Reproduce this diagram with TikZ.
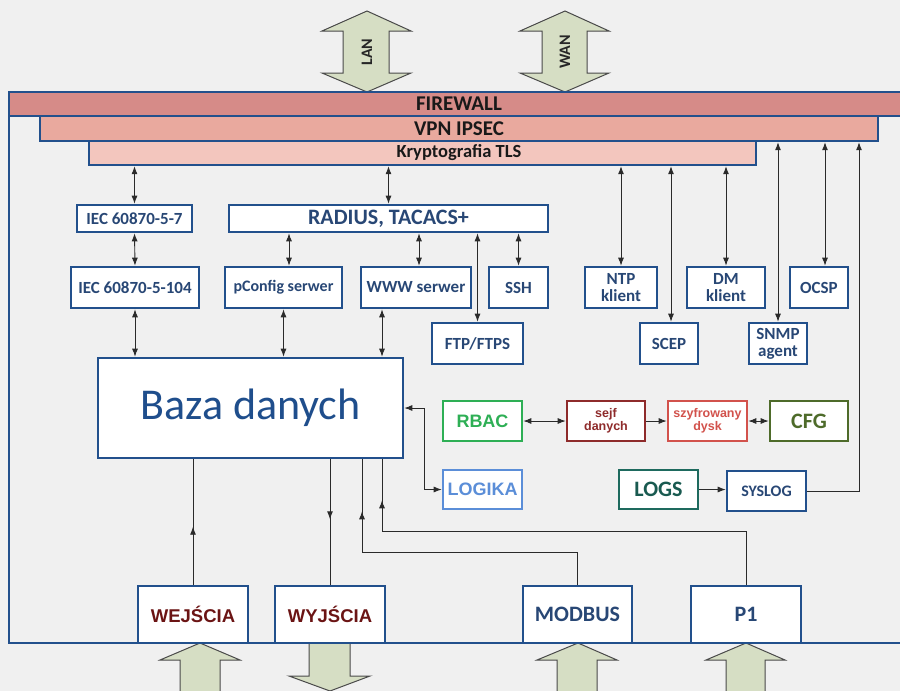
\documentclass[tikz,border=0pt]{standalone}
\usepackage{fontspec}
\setmainfont{Carlito}
\newfontfamily\arialf{Liberation Sans}
\usetikzlibrary{arrows.meta,decorations.markings}
\definecolor{bgc}{HTML}{F0F0F0}
\definecolor{boxblue}{HTML}{22508C}
\definecolor{txtblue}{HTML}{284775}
\definecolor{bazablue}{HTML}{1F4E8C}
\definecolor{fwc}{HTML}{D68B88}
\definecolor{vpnc}{HTML}{E9A99E}
\definecolor{tlsc}{HTML}{F3C6BE}
\definecolor{arrowg}{HTML}{D6DEC4}
\definecolor{arrowedge}{HTML}{4A4A4A}
\definecolor{linec}{HTML}{2A2A2A}
\definecolor{wejred}{HTML}{6B1414}
\definecolor{rbacg}{HTML}{2EAF55}
\definecolor{sejfc}{HTML}{8E2B2B}
\definecolor{szyfrc}{HTML}{D2524C}
\definecolor{cfgc}{HTML}{4E6B2A}
\definecolor{logikac}{HTML}{5B8ED8}
\definecolor{logsc}{HTML}{1E6A5E}
\tikzset{
  box/.style={draw=boxblue, line width=2.6pt, fill=white, inner sep=0pt, align=center,
    text=txtblue, font=\bfseries\fontsize{17}{17}\selectfont},
  barbox/.style={draw=boxblue, line width=2.4pt, inner sep=0pt},
  bartext/.style={inner sep=0pt, text=black!90, font=\bfseries\fontsize{21}{21}\selectfont},
  conn/.style={draw=linec, line width=0.9pt},
  blockarrow/.style={fill=arrowg, draw=arrowedge, line width=1pt},
  midarrow/.style={decoration={markings, mark=at position #1 with {\arrow{Latex[length=8pt,width=6pt]}}}, postaction={decorate}},
  >={Latex[length=8pt,width=6pt]}
}
\begin{document}
\begin{tikzpicture}[x=1pt,y=-1pt]
\clip (0,0) rectangle (900,691);
\fill[bgc] (0,0) rectangle (900,691);

% block arrows top
\filldraw[blockarrow] (367,11) -- (411,31) -- (389,31) -- (389,73) -- (411,73) -- (367,92)
  -- (322,73) -- (343,73) -- (343,31) -- (322,31) -- cycle;
\node[rotate=90, inner sep=0pt, font=\bfseries\fontsize{16}{16}\selectfont, text=black!85] (lan) at (367,52) {LAN};
\filldraw[blockarrow] (565,11) -- (609,31) -- (587,31) -- (587,73) -- (609,73) -- (565,92)
  -- (520,73) -- (542,73) -- (542,31) -- (520,31) -- cycle;
\node[rotate=90, inner sep=0pt, font=\bfseries\fontsize{16}{16}\selectfont, text=black!85] (wan) at (565,52) {WAN};

% frame
\draw[boxblue, line width=2.6pt] (9,92) rectangle (910,643);

% bottom block arrows
\filldraw[blockarrow] (200,643) -- (240,660) -- (220,660) -- (220,700) -- (180,700) -- (180,660) -- (160,660) -- cycle;
\filldraw[blockarrow] (309,643) -- (350,643) -- (350,676) -- (370,676) -- (330,691) -- (289,676) -- (309,676) -- cycle;
\filldraw[blockarrow] (578,643) -- (617,660) -- (597,660) -- (597,700) -- (557,700) -- (557,660) -- (537,660) -- cycle;
\filldraw[blockarrow] (746,643) -- (785,660) -- (765,660) -- (765,700) -- (726,700) -- (726,660) -- (706,660) -- cycle;

% bars
\node[barbox, fill=fwc, minimum width=901pt, minimum height=24pt] (fw) at (459.5,104) {};
\node[barbox, fill=vpnc, minimum width=838pt, minimum height=25pt] (vpn) at (459,128.5) {};
\node[barbox, fill=tlsc, minimum width=667pt, minimum height=24pt] (tls) at (422.5,153) {};
\node[bartext] (fwt) at (459,104) {FIREWALL};
\node[bartext] (vpnt) at (459,129) {VPN IPSEC};
\node[bartext, font=\bfseries\fontsize{18.5}{18.5}\selectfont] (tlst) at (459,153) {Kryptografia TLS};

% boxes
\node[box, minimum width=115pt, minimum height=27pt] (iec7) at (134.5,218.5) {IEC 60870-5-7};
\node[box, minimum width=128pt, minimum height=41pt] (iec104) at (135,287.5) {IEC 60870-5-104};
\node[box, minimum width=319pt, minimum height=27pt, font=\bfseries\fontsize{22}{22}\selectfont] (radius) at (388.5,218.5) {RADIUS, TACACS+};
\node[box, minimum width=117pt, minimum height=41pt, font=\bfseries\fontsize{16}{16}\selectfont] (pconfig) at (283.5,287.5) {pConfig serwer};
\node[box, minimum width=110pt, minimum height=41pt] (www) at (416,287.5) {WWW serwer};
\node[box, minimum width=59pt, minimum height=41pt] (ssh) at (518.5,287.5) {SSH};
\node[box, minimum width=91pt, minimum height=41pt] (ftp) at (477.5,343.5) {FTP/FTPS};
\node[box, minimum width=72pt, minimum height=41pt] (ntp) at (621,287.5) {NTP\\klient};
\node[box, minimum width=58pt, minimum height=41pt] (scep) at (669,343.5) {SCEP};
\node[box, minimum width=78pt, minimum height=41pt] (dm) at (726,287.5) {DM\\klient};
\node[box, minimum width=58pt, minimum height=41pt] (snmp) at (778,343.5) {SNMP\\agent};
\node[box, minimum width=58pt, minimum height=41pt] (ocsp) at (819,287.5) {OCSP};

\node[box, minimum width=305pt, minimum height=100pt, text=bazablue, font=\fontsize{44}{44}\selectfont] (baza) at (250.5,408) {Baza danych};

\node[box, draw=rbacg, text=rbacg, minimum width=79pt, minimum height=40pt, font=\arialf\bfseries\fontsize{18}{18}\selectfont] (rbac) at (482.5,421) {RBAC};
\node[box, draw=sejfc, text=sejfc, minimum width=78pt, minimum height=40pt, font=\arialf\bfseries\fontsize{12.5}{13}\selectfont] (sejf) at (606,421) {sejf\\danych};
\node[box, draw=szyfrc, text=szyfrc, minimum width=79pt, minimum height=40pt, font=\arialf\bfseries\fontsize{12.5}{13}\selectfont] (szyfr) at (707.5,421) {szyfrowany\\dysk};
\node[box, draw=cfgc, text=cfgc, minimum width=78pt, minimum height=40pt, font=\bfseries\fontsize{22}{22}\selectfont] (cfg) at (809,421) {CFG};

\node[box, draw=logikac, text=logikac, minimum width=79pt, minimum height=39pt, font=\arialf\bfseries\fontsize{18}{18}\selectfont] (logika) at (482.5,489.5) {LOGIKA};
\node[box, draw=logsc, text=logsc!85!black, minimum width=79pt, minimum height=39pt, font=\bfseries\fontsize{22}{22}\selectfont] (logs) at (658.5,489.5) {LOGS};
\node[box, minimum width=79pt, minimum height=40pt, font=\bfseries\fontsize{16}{16}\selectfont] (syslog) at (766.5,491) {SYSLOG};

\node[box, text=wejred, minimum width=110pt, minimum height=57pt, font=\arialf\bfseries\fontsize{18.5}{18.5}\selectfont] (wej) at (193,614.5) {WEJŚCIA};
\node[box, text=wejred, minimum width=110pt, minimum height=57pt, font=\arialf\bfseries\fontsize{18.5}{18.5}\selectfont] (wyj) at (330,614.5) {WYJŚCIA};
\node[box, minimum width=109pt, minimum height=57pt, font=\bfseries\fontsize{22}{22}\selectfont] (modbus) at (577.5,614.5) {MODBUS};
\node[box, minimum width=110pt, minimum height=57pt, font=\bfseries\fontsize{22}{22}\selectfont] (p1) at (746,614.5) {P1};

% connectors top
\draw[conn,<->] (iec7.north |- tls.south) -- (iec7.north);
\draw[conn,<->] (radius.north |- tls.south) -- (radius.north);
\draw[conn,<->] (iec7.south) -- (iec104.north);
\draw[conn,<->] (iec104.south) -- (iec104.south |- baza.north);
\draw[conn,<->] (radius.south -| 289,0) -- (pconfig.north -| 289,0);
\draw[conn,<->] (pconfig.south) -- (pconfig.south |- baza.north);
\draw[conn,<->] (radius.south -| 419,0) -- (www.north -| 419,0);
\draw[conn,<->] (www.south -| 382,0) -- (baza.north -| 382,0);
\draw[conn,<->] (radius.south -| ftp.north) -- (ftp.north);
\draw[conn,<->] (radius.south -| ssh.north) -- (ssh.north);
\draw[conn,<->] (tls.south -| ntp.north) -- (ntp.north);
\draw[conn,<->] (tls.south -| 671,0) -- (scep.north -| 671,0);
\draw[conn,<->] (tls.south -| dm.north) -- (dm.north);
\draw[conn,<->] (vpn.south -| snmp.north) -- (snmp.north);
\draw[conn,<->] (vpn.south -| 825,0) -- (ocsp.north -| 825,0);

% middle row
\draw[conn,<->] (rbac.east) -- (sejf.west);
\draw[conn,->] (sejf.east) -- (szyfr.west);
\draw[conn,<->] (szyfr.east) -- (cfg.west);
\draw[conn,->] (logs.east) -- (logs.east -| syslog.west);
\coordinate (sysk) at (859,489);
\draw[conn,->] (syslog.east) -| (sysk |- vpn.south);
\draw[conn,<->] (baza.east) -- ++(20,0) |- (logika.west);

% bottom connectors
\draw[conn, midarrow=58pt] (wej.north) -- (wej.north |- baza.south);
\draw[conn, midarrow=60pt] (baza.south -| wyj.north) -- (wyj.north);
\coordinate (mbk) at (362,552);
\draw[conn, midarrow=-52pt] (modbus.north) |- (mbk) -- (mbk |- baza.south);
\coordinate (p1k) at (382,531);
\draw[conn, midarrow=-41pt] (p1.north) |- (p1k) -- (p1k |- baza.south);
\end{tikzpicture}
\end{document}
